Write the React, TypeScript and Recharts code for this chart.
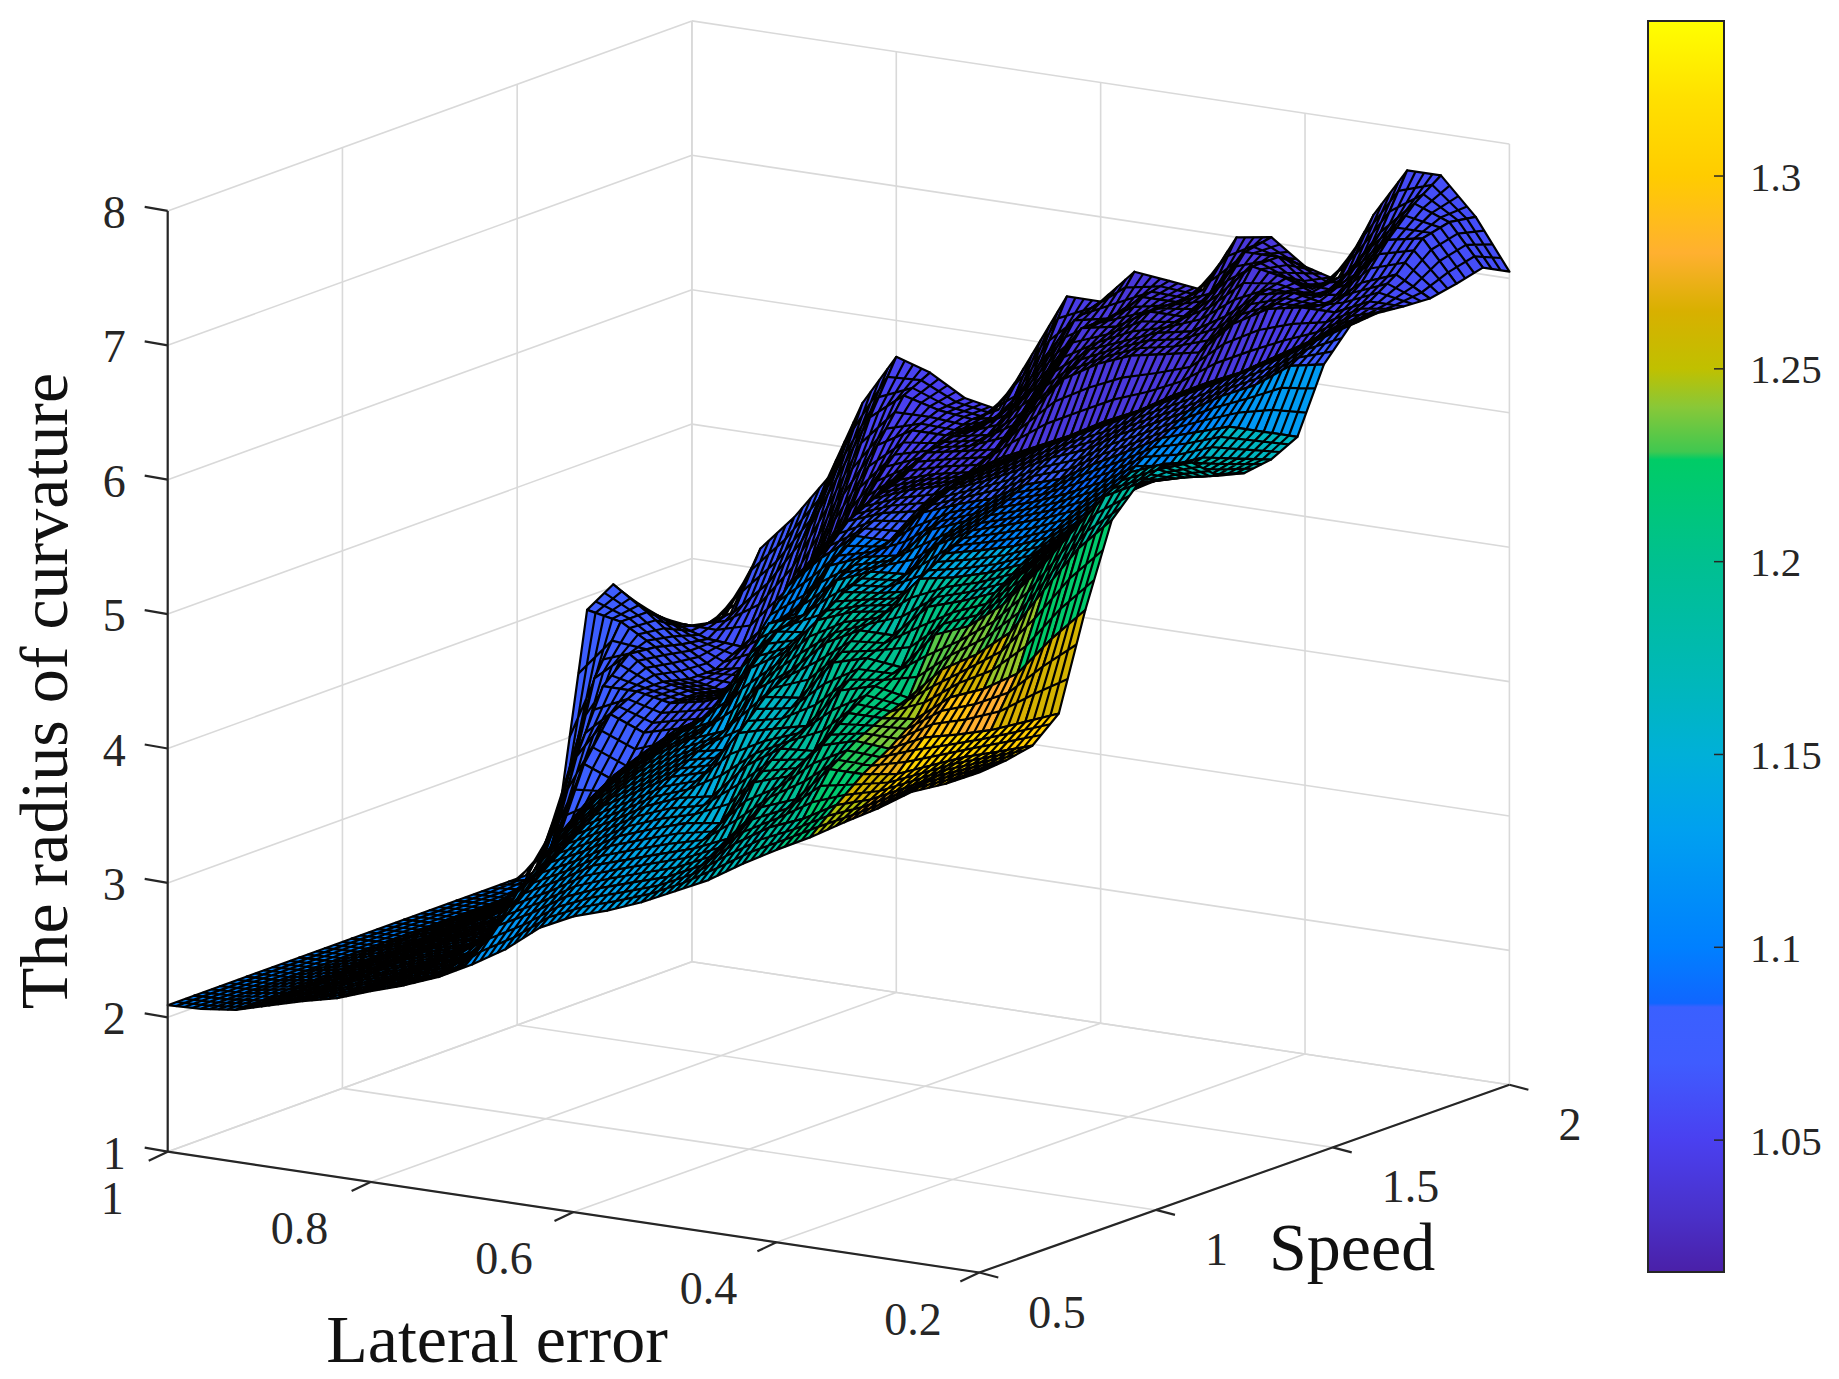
import React from 'react';
import { ScatterChart, Scatter, XAxis, YAxis, BarChart, Bar } from 'recharts';

// axis ticks
const zTicks = [1, 2, 3, 4, 5, 6, 7, 8];
const lateralTicks = [1, 0.8, 0.6, 0.4, 0.2];
const speedTicks = [0.5, 1, 1.5, 2];
const colorbarTicks = [1.05, 1.1, 1.15, 1.2, 1.25, 1.3];

// surface grid
const lateralGrid = [1, 0.967, 0.933, 0.9, 0.867, 0.833, 0.8, 0.767, 0.733, 0.7, 0.667, 0.633, 0.6, 0.567, 0.533, 0.5, 0.467, 0.433, 0.4, 0.367, 0.333, 0.3, 0.267, 0.233, 0.2];
const speedGrid = [0.5, 0.575, 0.65, 0.725, 0.8, 0.875, 0.95, 1.025, 1.1, 1.175, 1.25, 1.325, 1.4, 1.475, 1.55, 1.625, 1.7, 1.775, 1.85, 1.925, 2];

// radius of curvature, one row per lateralGrid entry, one value per speedGrid entry
const surfaceHeights = [
  [2.09, 2.09, 2.09, 2.09, 2.09, 2.09, 2.09, 2.09, 2.09, 2.09, 2.09, 2.09, 2.09, 2.09, 2.09, 2.55, 3.9, 4.02, 3.78, 3.58, 3.45],
  [2.1, 2.1, 2.1, 2.1, 2.1, 2.1, 2.1, 2.1, 2.1, 2.1, 2.1, 2.1, 2.1, 2.15, 2.75, 3.5, 3.85, 3.85, 3.7, 3.6, 3.55],
  [2.13, 2.13, 2.14, 2.14, 2.15, 2.15, 2.16, 2.16, 2.17, 2.18, 2.19, 2.2, 2.45, 3.1, 3.55, 3.72, 3.7, 3.65, 3.62, 3.75, 4.15],
  [2.2, 2.2, 2.2, 2.21, 2.22, 2.23, 2.24, 2.25, 2.27, 2.28, 2.3, 2.65, 3.15, 3.45, 3.55, 3.55, 3.5, 3.5, 3.6, 4.0, 4.42],
  [2.27, 2.27, 2.28, 2.29, 2.3, 2.31, 2.32, 2.33, 2.35, 2.5, 2.75, 2.92, 3.05, 3.35, 3.5, 3.5, 3.45, 3.55, 3.85, 4.35, 4.75],
  [2.33, 2.34, 2.35, 2.36, 2.37, 2.38, 2.4, 2.42, 2.6, 2.9, 3.02, 2.98, 3.2, 3.42, 3.55, 3.55, 3.6, 3.85, 4.3, 4.85, 5.35],
  [2.42, 2.43, 2.44, 2.46, 2.48, 2.52, 2.72, 3.0, 3.18, 3.32, 3.4, 3.28, 3.28, 3.45, 3.65, 3.75, 3.95, 4.35, 4.85, 5.35, 5.73],
  [2.5, 2.5, 2.52, 2.55, 2.75, 3.02, 3.22, 3.38, 3.5, 3.58, 3.58, 3.42, 3.5, 3.75, 3.95, 4.2, 4.45, 4.85, 5.25, 5.55, 5.65],
  [2.6, 2.62, 2.75, 3.02, 3.2, 3.35, 3.5, 3.62, 3.72, 3.8, 3.8, 3.62, 3.78, 4.1, 4.42, 4.7, 4.95, 5.2, 5.4, 5.48, 5.5],
  [2.73, 2.95, 3.12, 3.28, 3.42, 3.56, 3.68, 3.8, 3.9, 3.95, 4.0, 4.45, 4.7, 4.85, 5.0, 5.1, 5.2, 5.3, 5.4, 5.45, 5.45],
  [2.88, 3.08, 3.25, 3.4, 3.55, 3.7, 3.82, 3.95, 4.02, 4.35, 4.6, 4.6, 4.95, 5.15, 5.25, 5.32, 5.45, 5.5, 5.5, 5.5, 5.9],
  [3.08, 3.24, 3.4, 3.55, 3.7, 3.85, 3.97, 4.05, 4.45, 4.65, 4.7, 5.0, 5.15, 5.25, 5.35, 5.4, 5.5, 5.55, 5.7, 5.95, 6.37],
  [3.2, 3.34, 3.48, 3.64, 3.8, 3.92, 4.02, 4.4, 4.6, 4.68, 5.0, 5.1, 5.15, 5.3, 5.42, 5.45, 5.55, 5.75, 6.0, 6.3, 6.37],
  [3.28, 3.42, 3.56, 3.72, 3.85, 4.25, 4.45, 4.58, 4.88, 5.02, 5.1, 5.15, 5.4, 5.5, 5.55, 5.6, 5.85, 6.1, 6.35, 6.35, 6.63],
  [3.38, 3.5, 3.64, 3.76, 4.12, 4.32, 4.48, 4.82, 4.98, 5.05, 5.12, 5.38, 5.5, 5.6, 5.68, 5.72, 6.15, 6.3, 6.4, 6.55, 6.6],
  [3.5, 3.62, 3.75, 4.1, 4.28, 4.38, 4.78, 4.95, 5.02, 5.1, 5.38, 5.48, 5.58, 5.72, 5.82, 5.84, 6.3, 6.4, 6.55, 6.55, 6.57],
  [3.62, 3.82, 4.02, 4.18, 4.3, 4.68, 4.85, 4.95, 5.3, 5.42, 5.52, 5.62, 5.72, 5.85, 5.95, 5.98, 6.4, 6.5, 6.55, 6.65, 7.0],
  [3.78, 3.98, 4.12, 4.45, 4.62, 4.75, 4.82, 5.2, 5.35, 5.48, 5.6, 5.7, 5.8, 5.95, 6.08, 6.1, 6.45, 6.55, 6.75, 7.0, 7.04],
  [3.92, 4.08, 4.38, 4.52, 4.62, 4.7, 5.1, 5.28, 5.42, 5.55, 5.68, 5.8, 5.95, 6.1, 6.22, 6.25, 6.5, 6.7, 7.0, 7.0, 6.86],
  [4.05, 4.22, 4.38, 4.5, 4.65, 4.95, 5.2, 5.38, 5.52, 5.65, 5.78, 5.92, 6.08, 6.22, 6.35, 6.38, 6.75, 6.9, 6.95, 6.8, 6.79],
  [4.2, 4.3, 4.42, 4.62, 4.85, 5.1, 5.4, 5.6, 5.72, 5.82, 5.95, 6.08, 6.22, 6.35, 6.48, 6.5, 6.9, 6.95, 6.85, 6.95, 7.32],
  [4.34, 4.42, 4.52, 4.68, 4.95, 5.3, 5.68, 5.85, 5.98, 6.02, 6.05, 6.12, 6.3, 6.5, 6.62, 6.65, 6.95, 6.9, 7.05, 7.3, 7.69],
  [4.5, 4.55, 4.62, 4.75, 5.1, 5.65, 6.0, 6.15, 6.2, 6.18, 6.17, 6.22, 6.38, 6.62, 6.75, 6.8, 6.95, 7.1, 7.35, 7.55, 7.69],
  [4.6, 4.65, 4.7, 4.85, 5.4, 6.0, 6.32, 6.43, 6.38, 6.25, 6.2, 6.25, 6.38, 6.8, 6.92, 6.98, 7.07, 7.2, 7.4, 7.45, 7.42],
  [4.72, 4.74, 4.78, 4.95, 5.65, 6.25, 6.45, 6.53, 6.47, 6.3, 6.25, 6.28, 6.38, 6.85, 7.07, 7.09, 7.07, 7.06, 7.1, 7.15, 7.05],
];

// colour data of the surface, same layout as surfaceHeights
const surfaceColors = [
  [1.1, 1.1, 1.1, 1.1, 1.1, 1.1, 1.1, 1.1, 1.1, 1.1, 1.1, 1.1, 1.1, 1.1, 1.1, 1.09, 1.08, 1.075, 1.07, 1.065, 1.06],
  [1.1, 1.1, 1.1, 1.1, 1.1, 1.1, 1.1, 1.1, 1.1, 1.1, 1.1, 1.1, 1.1, 1.09, 1.08, 1.075, 1.07, 1.07, 1.065, 1.065, 1.06],
  [1.1, 1.1, 1.1, 1.1, 1.1, 1.1, 1.1, 1.1, 1.1, 1.1, 1.1, 1.1, 1.09, 1.08, 1.075, 1.07, 1.07, 1.065, 1.06, 1.06, 1.07],
  [1.1, 1.1, 1.1, 1.1, 1.1, 1.1, 1.1, 1.1, 1.1, 1.1, 1.1, 1.09, 1.08, 1.075, 1.07, 1.065, 1.06, 1.06, 1.06, 1.07, 1.07],
  [1.11, 1.11, 1.11, 1.11, 1.11, 1.11, 1.11, 1.11, 1.11, 1.11, 1.1, 1.08, 1.075, 1.07, 1.065, 1.06, 1.06, 1.06, 1.06, 1.07, 1.07],
  [1.11, 1.11, 1.11, 1.11, 1.11, 1.11, 1.11, 1.11, 1.12, 1.12, 1.11, 1.085, 1.07, 1.065, 1.06, 1.06, 1.055, 1.055, 1.055, 1.055, 1.055],
  [1.11, 1.11, 1.11, 1.11, 1.11, 1.12, 1.12, 1.12, 1.12, 1.12, 1.1, 1.08, 1.07, 1.065, 1.06, 1.055, 1.055, 1.055, 1.055, 1.055, 1.055],
  [1.11, 1.11, 1.11, 1.12, 1.12, 1.12, 1.12, 1.12, 1.12, 1.11, 1.09, 1.075, 1.07, 1.06, 1.055, 1.055, 1.05, 1.05, 1.05, 1.05, 1.05],
  [1.11, 1.11, 1.12, 1.12, 1.12, 1.13, 1.13, 1.13, 1.12, 1.11, 1.09, 1.075, 1.07, 1.06, 1.055, 1.05, 1.05, 1.05, 1.05, 1.05, 1.05],
  [1.12, 1.12, 1.12, 1.13, 1.13, 1.13, 1.13, 1.13, 1.12, 1.11, 1.13, 1.12, 1.09, 1.07, 1.055, 1.05, 1.05, 1.05, 1.05, 1.05, 1.05],
  [1.12, 1.12, 1.13, 1.13, 1.13, 1.13, 1.13, 1.13, 1.12, 1.15, 1.14, 1.13, 1.09, 1.07, 1.055, 1.05, 1.05, 1.05, 1.05, 1.05, 1.05],
  [1.12, 1.13, 1.13, 1.13, 1.13, 1.13, 1.13, 1.13, 1.15, 1.15, 1.14, 1.13, 1.09, 1.07, 1.055, 1.045, 1.045, 1.045, 1.045, 1.045, 1.045],
  [1.13, 1.13, 1.13, 1.14, 1.14, 1.14, 1.13, 1.16, 1.16, 1.15, 1.14, 1.09, 1.08, 1.07, 1.05, 1.045, 1.045, 1.045, 1.045, 1.045, 1.045],
  [1.13, 1.14, 1.14, 1.14, 1.14, 1.16, 1.16, 1.16, 1.19, 1.18, 1.16, 1.1, 1.085, 1.075, 1.05, 1.04, 1.04, 1.04, 1.04, 1.04, 1.04],
  [1.14, 1.14, 1.15, 1.15, 1.17, 1.17, 1.16, 1.2, 1.19, 1.17, 1.11, 1.09, 1.085, 1.075, 1.05, 1.04, 1.04, 1.04, 1.04, 1.04, 1.04],
  [1.15, 1.15, 1.16, 1.18, 1.18, 1.17, 1.21, 1.2, 1.18, 1.16, 1.1, 1.09, 1.085, 1.075, 1.05, 1.04, 1.04, 1.04, 1.04, 1.04, 1.04],
  [1.16, 1.17, 1.19, 1.2, 1.2, 1.21, 1.2, 1.19, 1.17, 1.11, 1.1, 1.09, 1.085, 1.075, 1.05, 1.04, 1.04, 1.04, 1.04, 1.04, 1.04],
  [1.17, 1.18, 1.2, 1.2, 1.2, 1.2, 1.2, 1.21, 1.18, 1.11, 1.1, 1.09, 1.085, 1.075, 1.05, 1.04, 1.04, 1.04, 1.04, 1.04, 1.04],
  [1.2, 1.2, 1.21, 1.21, 1.22, 1.23, 1.22, 1.2, 1.17, 1.11, 1.1, 1.09, 1.085, 1.075, 1.05, 1.04, 1.04, 1.04, 1.04, 1.04, 1.04],
  [1.22, 1.23, 1.24, 1.25, 1.27, 1.26, 1.22, 1.19, 1.14, 1.11, 1.1, 1.09, 1.085, 1.075, 1.05, 1.04, 1.04, 1.04, 1.04, 1.04, 1.04],
  [1.26, 1.28, 1.3, 1.3, 1.28, 1.25, 1.22, 1.19, 1.13, 1.11, 1.1, 1.095, 1.09, 1.08, 1.05, 1.04, 1.045, 1.045, 1.05, 1.05, 1.05],
  [1.29, 1.31, 1.32, 1.31, 1.28, 1.24, 1.21, 1.18, 1.14, 1.15, 1.15, 1.14, 1.12, 1.085, 1.05, 1.045, 1.05, 1.05, 1.055, 1.055, 1.055],
  [1.29, 1.31, 1.32, 1.29, 1.24, 1.21, 1.2, 1.15, 1.16, 1.17, 1.17, 1.17, 1.15, 1.09, 1.05, 1.045, 1.05, 1.055, 1.06, 1.06, 1.06],
  [1.28, 1.31, 1.32, 1.29, 1.24, 1.21, 1.17, 1.16, 1.17, 1.18, 1.18, 1.17, 1.16, 1.09, 1.05, 1.05, 1.055, 1.06, 1.06, 1.06, 1.06],
  [1.27, 1.3, 1.31, 1.28, 1.24, 1.2, 1.17, 1.17, 1.18, 1.18, 1.18, 1.17, 1.16, 1.09, 1.05, 1.05, 1.055, 1.06, 1.06, 1.06, 1.06],
];

// colorbar, bottom to top
const colormapValues = [1.0158, 1.03, 1.05, 1.07, 1.0845, 1.0855, 1.1, 1.13, 1.15, 1.17, 1.2, 1.2265, 1.2285, 1.24, 1.25, 1.265, 1.28, 1.3, 1.32, 1.3402];
const colormapColors = ['#4a20a8', '#4a30c8', '#4a40f0', '#3f5cff', '#3a60ff', '#1066ff', '#0080ff', '#00a0f0', '#00b0d8', '#00b8b8', '#00c090', '#00cc66', '#40c850', '#88c838', '#c0c000', '#d8b000', '#ffb030', '#ffcc00', '#ffe000', '#ffff00'];

const CHART_W = 1839;
const CHART_H = 1379;

// the view is close to orthographic, these are the three axis directions on the page
const project = (lateral: number, speed: number, z: number) => {
  const u = (1 - lateral) / 0.8;
  const v = (speed - 0.5) / 1.5;
  return {
    x: 167.7 + 811.6 * u + 524.2 * v + 5.9 * u * v,
    y: 1151.7 + 120.8 * u - 190 * v + 2.3 * u * v - 134.4 * (z - 1),
  };
};

const hex = (c: string, i: number) => parseInt(c.slice(i, i + 2), 16);
const colorOf = (value: number) => {
  let k = 0;
  while (k < colormapValues.length - 2 && value > colormapValues[k + 1]) k++;
  const t = Math.min(1, Math.max(0, (value - colormapValues[k]) / (colormapValues[k + 1] - colormapValues[k])));
  const a = colormapColors[k];
  const b = colormapColors[k + 1];
  const mix = (i: number) => Math.round(hex(a, i) + (hex(b, i) - hex(a, i)) * t);
  return `rgb(${mix(1)},${mix(3)},${mix(5)})`;
};

type Seg = { x: number; y: number; dx: number; dy: number };
const seg = (a: { x: number; y: number }, b: { x: number; y: number }): Seg => ({ x: a.x, y: a.y, dx: b.x - a.x, dy: b.y - a.y });

const gridSegments: Seg[] = [];
zTicks.forEach((z) => {
  gridSegments.push(seg(project(1, 0.5, z), project(1, 2, z)));
  gridSegments.push(seg(project(1, 2, z), project(0.2, 2, z)));
});
lateralTicks.forEach((l) => {
  gridSegments.push(seg(project(l, 0.5, 1), project(l, 2, 1)));
  gridSegments.push(seg(project(l, 2, 1), project(l, 2, 8)));
});
speedTicks.forEach((s) => {
  gridSegments.push(seg(project(1, s, 1), project(0.2, s, 1)));
  gridSegments.push(seg(project(1, s, 1), project(1, s, 8)));
});

const axisSegments: Seg[] = [
  seg(project(1, 0.5, 1), project(1, 0.5, 8)),
  seg(project(1, 0.5, 1), project(0.2, 0.5, 1)),
  seg(project(0.2, 0.5, 1), project(0.2, 2, 1)),
];
zTicks.forEach((z) => {
  const p = project(1, 0.5, z);
  axisSegments.push({ ...p, dx: -23, dy: -4 });
});
lateralTicks.forEach((l) => {
  const p = project(l, 0.5, 1);
  axisSegments.push({ ...p, dx: -19, dy: 9 });
});
speedTicks.forEach((s) => {
  const p = project(0.2, s, 1);
  axisSegments.push({ ...p, dx: 19, dy: 5 });
});

// far cells first so that nearer ones paint over them
const cells: any[] = [];
lateralGrid.slice(0, -1).forEach((lat, i) => {
  for (let j = speedGrid.length - 2; j >= 0; j--) {
    const a = project(lat, speedGrid[j], surfaceHeights[i][j]);
    const b = project(lat, speedGrid[j + 1], surfaceHeights[i][j + 1]);
    const c = project(lateralGrid[i + 1], speedGrid[j + 1], surfaceHeights[i + 1][j + 1]);
    const d = project(lateralGrid[i + 1], speedGrid[j], surfaceHeights[i + 1][j]);
    const value = (surfaceColors[i][j] + surfaceColors[i][j + 1] + surfaceColors[i + 1][j + 1] + surfaceColors[i + 1][j]) / 4;
    cells.push({ x: a.x, y: a.y, a, b, c, d, fill: colorOf(value) });
  }
});

const tickLabels: any[] = [];
zTicks.forEach((z) => {
  const p = project(1, 0.5, z);
  tickLabels.push({ x: p.x - 42, y: p.y + 17, text: String(z), anchor: 'end' });
});
lateralTicks.forEach((l) => {
  const p = project(l, 0.5, 1);
  tickLabels.push({ x: p.x - 44 + 8 * (1 - l), y: p.y + 62, text: String(l), anchor: 'end' });
});
speedTicks.forEach((s) => {
  const p = project(0.2, s, 1);
  tickLabels.push({ x: p.x + 49, y: p.y + 55, text: String(s), anchor: 'start' });
});

const axisTitles = [
  { x: 497, y: 1362, text: 'Lateral error', anchor: 'middle', rotate: 0 },
  { x: 1269, y: 1270, text: 'Speed', anchor: 'start', rotate: 0 },
  { x: 67, y: 691, text: 'The radius of curvature', anchor: 'middle', rotate: -90 },
];

const FONT = '"Liberation Serif", serif';
const LATERAL_RULES = 4;
const SPEED_RULES = 3;

const makeSegment = (stroke: string, width: number) => (props: any) => {
  const { cx, cy, payload } = props;
  return <line x1={cx} y1={cy} x2={cx + payload.dx} y2={cy + payload.dy} stroke={stroke} strokeWidth={width} />;
};

const lerp = (p: any, q: any, t: number) => ({ x: p.x + (q.x - p.x) * t, y: p.y + (q.y - p.y) * t });

// one facet of the surface, ruled like the mesh of the original plot
const SurfaceCell = (props: any) => {
  const { cx, cy, payload } = props;
  const { a, b, c, d, fill } = payload;
  const ox = cx - payload.x;
  const oy = cy - payload.y;
  const pt = (p: any) => `${(p.x + ox).toFixed(1)} ${(p.y + oy).toFixed(1)}`;
  let rules = '';
  for (let n = 1; n < SPEED_RULES; n++) {
    const t = n / SPEED_RULES;
    rules += `M${pt(lerp(a, b, t))}L${pt(lerp(d, c, t))}`;
  }
  for (let n = 1; n < LATERAL_RULES; n++) {
    const t = n / LATERAL_RULES;
    rules += `M${pt(lerp(a, d, t))}L${pt(lerp(b, c, t))}`;
  }
  return (
    <g>
      <path d={`M${pt(a)}L${pt(b)}L${pt(c)}L${pt(d)}Z`} fill={fill} stroke="#000" strokeWidth={2.2} strokeLinejoin="round" />
      <path d={rules} fill="none" stroke="#000" strokeWidth={2.2} />
    </g>
  );
};

const makeText = (size: number, fill: string) => (props: any) => {
  const { cx, cy, payload } = props;
  return (
    <text
      x={cx}
      y={cy}
      textAnchor={payload.anchor}
      fontFamily={FONT}
      fontSize={size}
      fill={fill}
      transform={payload.rotate ? `rotate(${payload.rotate} ${cx} ${cy})` : undefined}
    >
      {payload.text}
    </text>
  );
};

const colorbarLow = colormapValues[0];
const colorbarHigh = colormapValues[colormapValues.length - 1];
const colorbarRange = [{ name: 'range', value: [colorbarLow, colorbarHigh] }];

export default function App() {
  return (
    <div style={{ position: 'absolute', left: 0, top: 0, width: CHART_W, height: CHART_H, background: '#fff' }}>
      <ScatterChart width={CHART_W} height={CHART_H} margin={{ top: 0, right: 0, bottom: 0, left: 0 }}>
        <XAxis type="number" dataKey="x" domain={[0, CHART_W]} hide />
        <YAxis type="number" dataKey="y" domain={[0, CHART_H]} reversed hide />
        <Scatter data={gridSegments} shape={makeSegment('#d9d9d9', 1.6)} isAnimationActive={false} />
        <Scatter data={cells} shape={SurfaceCell} isAnimationActive={false} />
        <Scatter data={axisSegments} shape={makeSegment('#262626', 2.2)} isAnimationActive={false} />
        <Scatter data={tickLabels} shape={makeText(46, '#262626')} isAnimationActive={false} />
        <Scatter data={axisTitles} shape={makeText(68, '#111')} isAnimationActive={false} />
      </ScatterChart>
      <div style={{ position: 'absolute', left: 1640, top: 11 }}>
        <BarChart
          width={199}
          height={1271}
          data={colorbarRange}
          margin={{ top: 10, right: 0, bottom: 10, left: 8 }}
          barCategoryGap={0}
        >
          <defs>
            <linearGradient id="colorbarFill" x1="0" y1="1" x2="0" y2="0">
              {colormapValues.map((v, k) => (
                <stop key={k} offset={(v - colorbarLow) / (colorbarHigh - colorbarLow)} stopColor={colormapColors[k]} />
              ))}
            </linearGradient>
          </defs>
          <XAxis dataKey="name" hide />
          <YAxis
            orientation="right"
            type="number"
            domain={[colorbarLow, colorbarHigh]}
            ticks={colorbarTicks}
            width={115}
            axisLine={false}
            tickSize={-10}
            tickMargin={36}
            tickLine={{ stroke: '#262626', strokeWidth: 1.5 }}
            tick={{ fontFamily: FONT, fontSize: 41, fill: '#262626', textAnchor: 'start' }}
            interval={0}
          />
          <Bar dataKey="value" fill="url(#colorbarFill)" stroke="#262626" strokeWidth={2} isAnimationActive={false} />
        </BarChart>
      </div>
    </div>
  );
}
